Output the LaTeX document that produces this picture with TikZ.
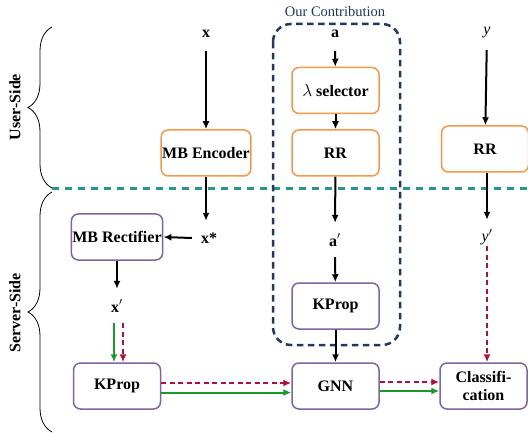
\documentclass[tikz,border=0pt]{standalone}
\usepackage{fontspec}
\setmainfont{Liberation Serif}
\usetikzlibrary{arrows.meta,decorations.pathreplacing}

\definecolor{boxorange}{HTML}{F79646}
\definecolor{boxpurple}{HTML}{8064A2}
\definecolor{splitteal}{HTML}{22998F}
\definecolor{contribblue}{HTML}{1F3864}
\definecolor{evalred}{HTML}{B0103A}
\definecolor{traingreen}{HTML}{1A9A2A}

\begin{document}
\begin{tikzpicture}[x=1pt,y=-1pt,
	box/.style={draw, rounded corners=7pt, line width=1.5pt, minimum width=87pt, minimum height=46pt, inner sep=1pt, align=center, font=\fontsize{16}{18}\selectfont\bfseries},
	userbox/.style={box, draw=boxorange},
	serverbox/.style={box, draw=boxpurple},
	lbl/.style={inner sep=1pt, minimum height=34pt, font=\fontsize{16}{18}\selectfont\bfseries},
	arr/.style={-{Latex[length=8pt,width=7pt]}, line width=2pt},
	trainarr/.style={arr, draw=traingreen, -{Latex[length=8pt,width=7pt,color=traingreen]}},
	evalarr/.style={arr, draw=evalred, dash pattern=on 5pt off 3.5pt, -{Latex[length=8pt,width=7pt,color=evalred]}},
	sidebrace/.style={decorate, decoration={brace, amplitude=24pt}, line width=0.8pt}]
	\useasboundingbox (0,0) rectangle (528,433);

	% user / server split
	\draw[sidebrace] (52,188) -- (52,27);
	\draw[sidebrace] (52,432) -- (52,192);
	\node[rotate=90, font=\fontsize{16}{18}\selectfont\bfseries] (userlbl) at (15,107) {User-Side};
	\node[rotate=90, font=\fontsize{16}{18}\selectfont\bfseries] (serverlbl) at (15,313) {Server-Side};
	\draw[splitteal, line width=3pt, dash pattern=on 7pt off 6pt] (52,189) -- (528,189);

	% contribution frame
	\draw[contribblue, line width=2.5pt, dash pattern=on 6.5pt off 4.5pt, rounded corners=18pt] (273,24) rectangle (400,345);
	\node[contribblue, font=\fontsize{14.5}{16}\selectfont] (contrib) at (335,12) {Our Contribution};

	% features
	\node[lbl] (x) at (206,34) {x};
	\node[userbox] (enc) at (206,153) {MB Encoder};
	\node[lbl] (xs) at (209,238) {x*};
	\node[serverbox] (rect) at (117,237) {MB Rectifier};
	\node[lbl] (xp) at (117,306) {x$'$};
	\node[serverbox] (kp1) at (117,386) {KProp};

	% edges
	\node[lbl] (a) at (335,34) {a};
	\node[userbox] (sel) at (335.5,90.5) {$\lambda$ selector};
	\node[userbox] (rr1) at (335.5,153) {RR};
	\node[lbl] (ap) at (335,240) {a$'$};
	\node[serverbox] (kp2) at (335.5,306) {KProp};
	\node[serverbox] (gnn) at (335.5,386) {GNN};

	% labels
	\node[lbl, font=\fontsize{16}{18}\selectfont\itshape] (y) at (487,33) {y};
	\node[userbox] (rr2) at (485,149) {RR};
	\node[lbl, font=\fontsize{16}{18}\selectfont\itshape] (yp) at (487,237) {y$'$};
	\node[serverbox] (cls) at (483.5,386) {Classifi-\\cation};

	\draw[arr] (x) -- (enc);
	\draw[arr] (enc) -- (enc |- xs.north);
	\draw[arr] ([xshift=-8pt]xs.west) -- (rect.east);
	\draw[arr] (rect) -- (xp);
	\draw[trainarr] ([xshift=-3pt]xp.south) -- ([xshift=-3pt]xp.south |- kp1.north);
	\draw[evalarr] ([xshift=6pt]xp.south) -- ([xshift=6pt]xp.south |- kp1.north);

	\draw[arr] (a) -- (sel);
	\draw[arr] (sel) -- (rr1);
	\draw[arr] (rr1) -- (ap);
	\draw[arr] (ap) -- (kp2);
	\draw[arr] (kp2) -- (gnn);

	\draw[arr] (y) -- (rr2);
	\draw[arr] (rr2.south -| yp) -- (yp);
	\draw[evalarr, shorten <=9pt] (yp.center) -- (yp.center |- cls.north);

	\draw[evalarr] ([yshift=3pt]kp1.east) -- ([yshift=3pt]gnn.west);
	\draw[trainarr] ([yshift=-6.5pt]kp1.east) -- ([yshift=-6.5pt]gnn.west);
	\draw[evalarr] ([yshift=4pt]gnn.east) -- ([yshift=4pt]cls.west);
	\draw[trainarr] ([yshift=-5pt]gnn.east) -- ([yshift=-5pt]cls.west);
\end{tikzpicture}
\end{document}
